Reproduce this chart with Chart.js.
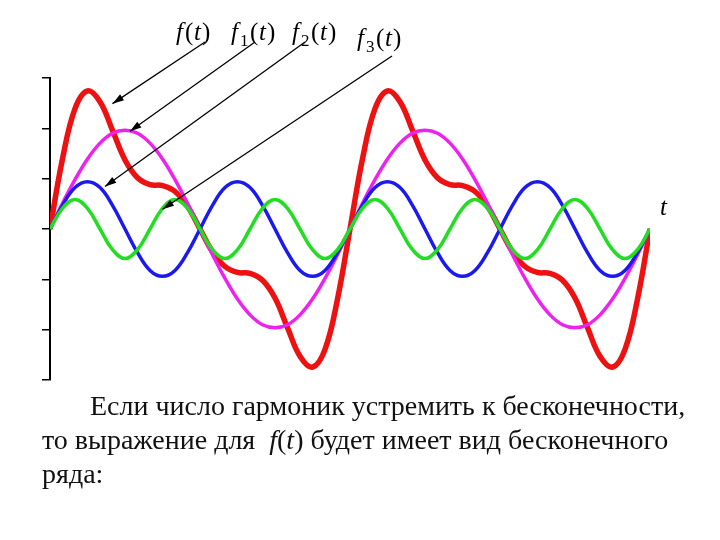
<!DOCTYPE html>
<html><head><meta charset="utf-8">
<script src="https://cdn.jsdelivr.net/npm/chart.js@4/dist/chart.umd.min.js"></script>
<style>html,body{margin:0;background:#fff}#w{position:relative;width:720px;height:540px}
#txt{position:absolute;left:0;top:389px;width:720px;font-family:"Liberation Serif",serif;font-size:28px;line-height:34px;color:#111;white-space:nowrap}
</style></head><body><div id="w"><canvas id="c" width="720" height="540"></canvas>
<div id="txt"><div style="padding-left:90px">Если число гармоник устремить к бесконечности,</div><div style="padding-left:42px">то выражение для &nbsp;<i>f</i>(<i>t</i>) будет имеет вид бесконечного</div><div style="padding-left:42px">ряда:</div></div></div>
<script>
const tSteps=[...Array(49).keys()];
const f1=[0,.26,.5,.71,.87,.97,1,.97,.87,.71,.5,.26,0,-.26,-.5,-.71,-.87,-.97,-1,-.97,-.87,-.71,-.5,-.26,0,.26,.5,.71,.87,.97,1,.97,.87,.71,.5,.26,0,-.26,-.5,-.71,-.87,-.97,-1,-.97,-.87,-.71,-.5,-.26,0];
const f2=[0,.24,.42,.48,.42,.24,0,-.24,-.42,-.48,-.42,-.24,0,.24,.42,.48,.42,.24,0,-.24,-.42,-.48,-.42,-.24,0,.24,.42,.48,.42,.24,0,-.24,-.42,-.48,-.42,-.24,0,.24,.42,.48,.42,.24,0,-.24,-.42,-.48,-.42,-.24,0];
const f3=[0,.21,.3,.21,0,-.21,-.3,-.21,0,.21,.3,.21,0,-.21,-.3,-.21,0,.21,.3,.21,0,-.21,-.3,-.21,0,.21,.3,.21,0,-.21,-.3,-.21,0,.21,.3,.21,0,-.21,-.3,-.21,0,.21,.3,.21,0,-.21,-.3,-.21,0];
const f=[0,.71,1.22,1.40,1.29,1.00,.70,.52,.45,.44,.38,.23,0,-.23,-.38,-.44,-.45,-.52,-.70,-1.00,-1.29,-1.40,-1.22,-.71,0,.71,1.22,1.40,1.29,1.00,.70,.52,.45,.44,.38,.23,0,-.23,-.38,-.44,-.45,-.52,-.70,-1.00,-1.29,-1.40,-1.22,-.71,0];
const yTicks=[-1.53,-1.02,-0.51,0,0.51,1.02,1.53];
const labels=[["f(t)",""],["f","1"],["f","2"],["f","3"]];
const arrowTips=[[5,1.27],[6.4,0.99],[4.4,0.43],[9,0.20]];
const mk=(d,c,w)=>({data:d.map((v,i)=>({x:tSteps[i],y:v})),borderColor:c,borderWidth:w,pointRadius:0,tension:0.4,fill:false});
const deco={id:'deco',afterDraw(ch){const c=ch.ctx,xs=ch.scales.x,ys=ch.scales.y;c.save();
c.fillStyle='#000';const I='italic 25px "Liberation Serif"',R='25px "Liberation Serif"';
const pos=[[176,40],[231,40],[292,40],[357,46]],start=[[205,42],[255,42],[305,42],[392,56]];
labels.forEach((l,i)=>{let [x,y]=pos[i];c.font=I;
if(i==0){c.fillText('f',x,y);c.font=R;c.fillText('(',x+9,y);c.font=I;c.fillText('t',x+18,y);c.font=R;c.fillText(')',x+26,y);}
else{c.fillText('f',x,y);c.font='17px "Liberation Serif"';c.fillText(l[1],x+9,y+6);c.font=R;c.fillText('(',x+19,y);c.font=I;c.fillText('t',x+28,y);c.font=R;c.fillText(')',x+36,y);}
const tx=xs.getPixelForValue(arrowTips[i][0]),ty=ys.getPixelForValue(arrowTips[i][1]);const [sx,sy]=start[i];
c.strokeStyle='#000';c.lineWidth=1.3;c.beginPath();c.moveTo(sx,sy);c.lineTo(tx,ty);c.stroke();
const a=Math.atan2(ty-sy,tx-sx);c.beginPath();c.moveTo(tx,ty);c.lineTo(tx-12*Math.cos(a-0.3),ty-12*Math.sin(a-0.3));c.lineTo(tx-12*Math.cos(a+0.3),ty-12*Math.sin(a+0.3));c.closePath();c.fill();});
c.font=I;c.fillText('t',660,215);c.restore();}};
new Chart(document.getElementById('c'),{type:'line',data:{datasets:[mk(f3,'#22dd22',3.5),mk(f2,'#1a1aee',3.5),mk(f1,'#ee22ee',3.5),mk(f,'#ee1111',5.5)]},
options:{responsive:false,animation:false,plugins:{legend:{display:false},tooltip:{enabled:false}},
layout:{padding:{left:42,right:70,top:78,bottom:160}},
scales:{x:{type:'linear',min:0,max:48,display:false},
y:{min:-1.53,max:1.53,afterBuildTicks:s=>{s.ticks=yTicks.map(v=>({value:v}))},ticks:{display:false},grid:{drawOnChartArea:false,tickLength:8,color:'#000',lineWidth:1.5},border:{color:'#000',width:2}}}},plugins:[deco]});
</script></body></html>
